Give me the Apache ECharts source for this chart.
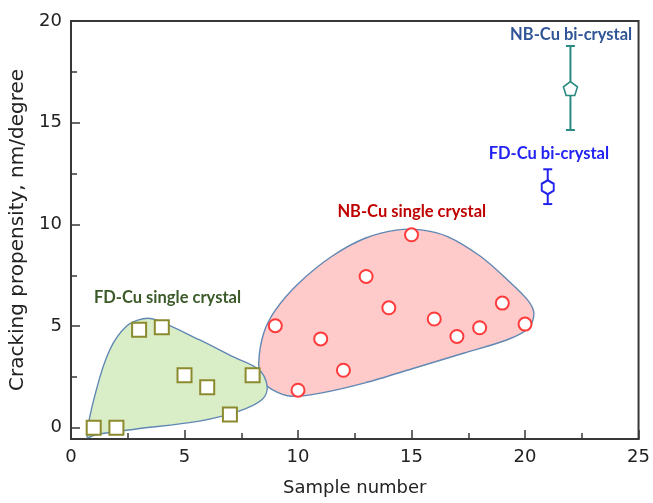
<!DOCTYPE html>
<html><head><meta charset="utf-8">
<script src="https://cdn.jsdelivr.net/npm/echarts@6/dist/echarts.min.js"></script>
<style>html,body{margin:0;padding:0;background:#fff}#c{width:653px;height:503px}</style>
</head><body><div id="c"></div>
<script>
// ---- data ----
const fdSingleX = [1, 2, 3, 4, 5, 6, 7, 8];
const fdSingleY = [0.0, 0.0, 4.82, 4.94, 2.58, 1.99, 0.65, 2.58];
const nbSingleX = [9, 10, 11, 12, 13, 14, 15, 16, 17, 18, 19, 20];
const nbSingleY = [5.02, 1.85, 4.37, 2.83, 7.44, 5.90, 9.49, 5.35, 4.49, 4.92, 6.13, 5.10];
const fdBiX = [21];
const fdBiY = [11.83];
const fdBiLow = [11.0];
const fdBiHigh = [12.71];
const nbBiX = [22];
const nbBiY = [16.68];
const nbBiLow = [14.64];
const nbBiHigh = [18.77];
const yTicks = [0, 5, 10, 15, 20];
const yMinorTicks = [2.5, 7.5, 12.5, 17.5];
// group outlines (data coordinates)
const fdBlob = [[0.71,-0.44],[1.12,1.88],[1.71,3.84],[2.44,4.99],[3.17,5.36],[3.75,5.31],[5.65,4.33],[7.1,3.51],[8.27,2.86],[8.64,2.04],[8.42,1.39],[7.4,0.82],[5.65,0.33],[2.73,-0.08],[1.12,-0.33]];
const nbBlob = [[8.27,3.19],[8.49,4.66],[9.01,5.80],[10.03,7.11],[11.48,8.42],[12.95,9.32],[14.4,9.73],[15.42,9.73],[16.59,9.40],[18.05,8.42],[19.22,7.28],[20.1,6.30],[20.39,5.64],[20.17,4.91],[19.22,4.33],[17.32,3.68],[15.14,2.94],[12.95,2.21],[11.05,1.72],[9.73,1.55],[8.86,1.88],[8.42,2.37]];
const labelText = ['NB-Cu bi-crystal', 'FD-Cu bi-crystal', 'NB-Cu single crystal', 'FD-Cu single crystal'];
const labelX = [22.03, 21.05, 15.01, 4.25];
const labelY = [19.33, 13.46, 10.63, 6.41];
const labelColor = ['#2f5597', '#2222f2', '#c00000', '#3b5a28'];

// ---- chart ----
const chart = echarts.init(document.getElementById('c'), null, {renderer: 'canvas'});
const axisCol = '#383838';
const pent = 'path://M0,-1 L0.951,-0.309 L0.588,0.809 L-0.588,0.809 L-0.951,-0.309 Z';
const hexa = 'path://M0,-1 L0.866,-0.5 L0.866,0.5 L0,1 L-0.866,0.5 L-0.866,-0.5 Z';

function blob(pts, fill, sm) {
  return {
    type: 'custom', coordinateSystem: 'cartesian2d', data: [[0, 0]], silent: true, z: 1,
    renderItem: (p, api) => ({
      type: 'polygon',
      shape: {points: pts.map(q => api.coord(q)), smooth: sm},
      style: {fill: fill, stroke: '#6088b4', lineWidth: 1.4}
    })
  };
}
function errBar(xs, lo, hi, color) {
  return {
    type: 'custom', coordinateSystem: 'cartesian2d', silent: true, z: 3,
    data: xs.map((x, i) => [x, lo[i], hi[i]]),
    renderItem: (p, api) => {
      const a = api.coord([api.value(0), api.value(1)]);
      const b = api.coord([api.value(0), api.value(2)]);
      const w = 4.5;
      const st = {stroke: color, lineWidth: 2};
      return {type: 'group', children: [
        {type: 'line', shape: {x1: a[0], y1: a[1], x2: b[0], y2: b[1]}, style: st},
        {type: 'line', shape: {x1: a[0]-w, y1: a[1], x2: a[0]+w, y2: a[1]}, style: st},
        {type: 'line', shape: {x1: b[0]-w, y1: b[1], x2: b[0]+w, y2: b[1]}, style: st}
      ]};
    }
  };
}

const option = {
  backgroundColor: '#fff',
  animation: false,
  grid: {left: 71, right: 11, top: 21, bottom: 64, show: true, borderColor: axisCol, borderWidth: 2, backgroundColor: 'transparent'},
  xAxis: {
    type: 'value', min: 0, max: 25, interval: 5,
    name: 'Sample number', nameLocation: 'middle', nameGap: 40,
    nameTextStyle: {fontFamily: 'DejaVu Sans', fontSize: 18, color: '#222'},
    axisLine: {show: true, onZero: false, lineStyle: {color: axisCol, width: 2}},
    axisTick: {show: true, inside: true, length: 9, lineStyle: {color: axisCol, width: 1.5}},
    minorTick: {show: true, splitNumber: 2, length: 6, lineStyle: {color: axisCol, width: 1.5}},
    axisLabel: {fontFamily: 'DejaVu Sans', fontSize: 18, color: '#222', margin: 9},
    splitLine: {show: false}
  },
  yAxis: [{
    type: 'value', min: -0.55, max: 20,
    name: 'Cracking propensity, nm/degree', nameLocation: 'middle', nameGap: 42,
    nameTextStyle: {fontFamily: 'DejaVu Sans', fontSize: 20, color: '#222'},
    axisLine: {show: true, onZero: false, lineStyle: {color: axisCol, width: 2}},
    axisTick: {show: true, inside: true, length: 9, lineStyle: {color: axisCol, width: 1.5}, customValues: yTicks},
    axisLabel: {fontFamily: 'DejaVu Sans', fontSize: 18, color: '#222', margin: 9, customValues: yTicks},
    splitLine: {show: false}
  }, {
    type: 'value', min: -0.55, max: 20, position: 'left',
    axisLine: {show: false, onZero: false},
    axisTick: {show: true, inside: true, length: 6, lineStyle: {color: axisCol, width: 1.5}, customValues: yMinorTicks},
    axisLabel: {show: false, customValues: yMinorTicks},
    splitLine: {show: false}
  }],
  series: [
    blob(nbBlob, '#ffcaca', 0.3),
    blob(fdBlob, '#d9edc7', 0.35),
    errBar(nbBiX, nbBiLow, nbBiHigh, '#2a8a80'),
    errBar(fdBiX, fdBiLow, fdBiHigh, '#2222ee'),
    {type: 'scatter', z: 4, symbol: 'rect', symbolSize: 14,
      data: fdSingleX.map((x, i) => [x, fdSingleY[i]]),
      itemStyle: {color: '#fff', borderColor: '#8c8a2e', borderWidth: 2, opacity: 1}},
    {type: 'scatter', z: 4, symbol: 'circle', symbolSize: 13,
      data: nbSingleX.map((x, i) => [x, nbSingleY[i]]),
      itemStyle: {color: '#fff', borderColor: '#ff3b3b', borderWidth: 2, opacity: 1}},
    {type: 'scatter', z: 4, symbol: hexa, symbolSize: [12, 14],
      data: fdBiX.map((x, i) => [x, fdBiY[i]]),
      itemStyle: {color: '#fff', borderColor: '#2222ee', borderWidth: 2, opacity: 1}},
    {type: 'scatter', z: 4, symbol: pent, symbolSize: 14,
      data: nbBiX.map((x, i) => [x, nbBiY[i]]),
      itemStyle: {color: '#fff', borderColor: '#2a8a80', borderWidth: 1.6, opacity: 1}},
    {type: 'custom', coordinateSystem: 'cartesian2d', silent: true, z: 5,
      data: labelX.map((x, i) => [x, labelY[i], i]),
      renderItem: (p, api) => {
        const i = api.value(2);
        const c = api.coord([api.value(0), api.value(1)]);
        return {type: 'text', x: c[0], y: c[1], style: {
          text: labelText[i], fill: labelColor[i], font: 'bold 16.5px Lato',
          align: 'center', verticalAlign: 'middle'}};
      }}
  ]
};
chart.setOption(option);
</script></body></html>
